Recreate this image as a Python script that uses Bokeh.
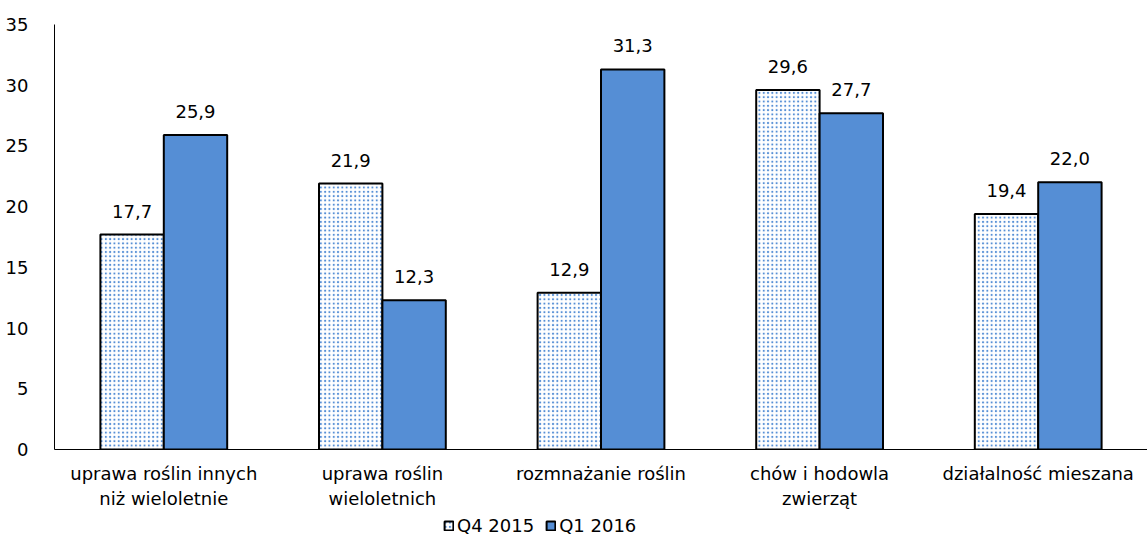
from bokeh.plotting import figure
from bokeh.layouts import column
from bokeh.models import ColumnDataSource, FactorRange, Range1d, LabelSet, Legend, LegendItem, FixedTicker
from bokeh.transform import dodge
from bokeh.core.properties import value
from bokeh.embed import file_html
from bokeh.resources import INLINE

categories = ["uprawa roślin innych\nniż wieloletnie", "uprawa roślin\nwieloletnich",
              "rozmnażanie roślin", "chów i hodowla\nzwierząt", "działalność mieszana"]
q4_2015 = [17.7, 21.9, 12.9, 29.6, 19.4]
q1_2016 = [25.9, 12.3, 31.3, 27.7, 22.0]
series_names = ["Q4 2015", "Q1 2016"]
y_ticks = [0, 5, 10, 15, 20, 25, 30, 35]

FONT = "DejaVu Sans"
FS = "18px"
BLUE = "#558ed5"
Q4_STYLE = dict(fill_color="white", line_color="black", line_width=2,
                hatch_pattern="dot", hatch_color=BLUE, hatch_scale=4.3, hatch_weight=1.7)
Q1_STYLE = dict(fill_color=BLUE, line_color="black", line_width=2)

src = ColumnDataSource(dict(
    cat=categories,
    q4=q4_2015,
    q1=q1_2016,
    q4_lbl=[f"{v:.1f}".replace(".", ",") for v in q4_2015],
    q1_lbl=[f"{v:.1f}".replace(".", ",") for v in q1_2016],
))

p = figure(width=1147, height=513, x_range=FactorRange(*categories, range_padding=0),
           y_range=Range1d(0, 35), output_backend="svg", toolbar_location=None,
           min_border_left=54, min_border_right=0, min_border_top=24, min_border_bottom=64)
p.outline_line_color = None
p.xgrid.visible = False
p.ygrid.visible = False

bw = 0.29
p.vbar(x=dodge("cat", -bw / 2, range=p.x_range), top="q4", width=bw, source=src, **Q4_STYLE)
p.vbar(x=dodge("cat", bw / 2, range=p.x_range), top="q1", width=bw, source=src, **Q1_STYLE)

for col, lab, off in [("q4", "q4_lbl", -bw / 2), ("q1", "q1_lbl", bw / 2)]:
    p.add_layout(LabelSet(x=dodge("cat", off, range=p.x_range), y=col, text=lab, source=src,
                          text_align="center", text_baseline="bottom", y_offset=17,
                          text_font=value(FONT), text_font_size=value(FS), text_color="black"))

p.yaxis.ticker = FixedTicker(ticks=y_ticks)
p.yaxis.major_tick_line_color = None
p.yaxis.minor_tick_line_color = None
p.yaxis.axis_line_color = "black"
p.yaxis.major_label_text_font = FONT
p.yaxis.major_label_text_font_size = FS
p.yaxis.major_label_text_color = "black"
p.yaxis.major_label_standoff = 20

p.xaxis.major_tick_line_color = None
p.xaxis.minor_tick_line_color = None
p.xaxis.axis_line_color = "black"
p.xaxis.major_label_text_font = FONT
p.xaxis.major_label_text_font_size = FS
p.xaxis.major_label_text_color = "black"
p.xaxis.major_label_standoff = 7

# legend strip below the chart: its renderers are hidden, only their legend glyphs show
p2 = figure(width=1147, height=26, output_backend="svg", toolbar_location=None,
            min_border=0, min_border_left=0, min_border_right=0, min_border_top=0, min_border_bottom=0,
            x_axis_location=None, y_axis_location=None,
            x_range=FactorRange(*categories, range_padding=0), y_range=Range1d(0, 35))
p2.grid.visible = False
p2.outline_line_color = None
l4 = p2.vbar(x=dodge("cat", -bw / 2, range=p2.x_range), top="q4", width=bw, source=src,
             visible=False, **Q4_STYLE)
l1 = p2.vbar(x=dodge("cat", bw / 2, range=p2.x_range), top="q1", width=bw, source=src,
             visible=False, **Q1_STYLE)
legend = Legend(items=[LegendItem(label=series_names[0], renderers=[l4]),
                       LegendItem(label=series_names[1], renderers=[l1])],
                orientation="horizontal", location=(389, 3),
                label_text_font=FONT, label_text_font_size=FS, label_text_color="black",
                glyph_width=11, glyph_height=11, label_standoff=3, spacing=11,
                inactive_fill_alpha=0,
                border_line_color=None, background_fill_alpha=0, padding=0, margin=0)
p2.add_layout(legend)

open("out.html", "w").write(file_html(column(p, p2, spacing=0), INLINE))
